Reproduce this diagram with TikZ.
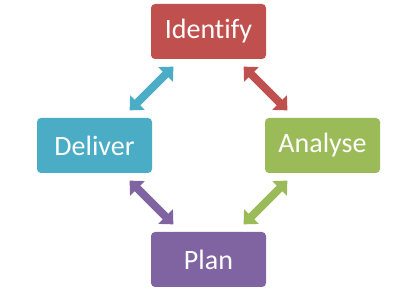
\documentclass[tikz,border=0pt]{standalone}
\usepackage{fontspec}
\setmainfont{Carlito}[Ligatures=NoCommon]
\usetikzlibrary{arrows.meta}
\definecolor{cred}{HTML}{C0504D}
\definecolor{cteal}{HTML}{4BACC6}
\definecolor{cgreen}{HTML}{9BBB59}
\definecolor{cpurple}{HTML}{8064A2}
\begin{document}
\begin{tikzpicture}[x=1pt,y=1pt,
  box/.style={rounded corners=4pt, minimum width=115pt, minimum height=55pt, text=white,
    font=\fontsize{28}{33}\selectfont, inner sep=0pt},
  link/.style={line width=8pt, {Triangle[width=20pt,length=11pt]}-{Triangle[width=20pt,length=11pt]},
    shorten <=10.5pt, shorten >=10.5pt}]
\useasboundingbox (0,0) rectangle (416,294);
\node[box, fill=cred] (i) at (208.5,262.5) {Identify};
\node[box, fill=cteal] (d) at (94.5,148.5) {Deliver};
\node[box, fill=cgreen] (a) at (322.5,148.5) {Analyse};
\node[box, fill=cpurple] (p) at (208.5,34.5) {Plan};
\draw[link, cteal] (d) -- (i);
\draw[link, cred] (i) -- (a);
\draw[link, cgreen] (a) -- (p);
\draw[link, cpurple] (p) -- (d);
\end{tikzpicture}
\end{document}
